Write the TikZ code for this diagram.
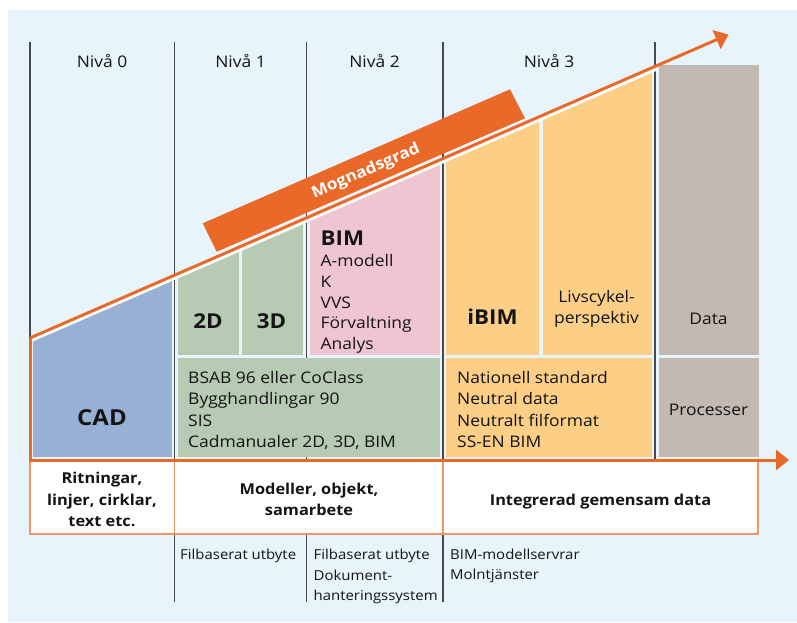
\documentclass[tikz,border=0pt]{standalone}
\usepackage{fontspec}
\setmainfont{Open Sans}
\newfontfamily\osf[FakeStretch=1.09]{Open Sans}
\usetikzlibrary{arrows.meta}
\definecolor{bgc}{HTML}{E8F4FC}
\definecolor{cadc}{HTML}{98B0D4}
\definecolor{grnc}{HTML}{B7CAB3}
\definecolor{pnkc}{HTML}{F0C5D2}
\definecolor{orfc}{HTML}{FCCE86}
\definecolor{gryc}{HTML}{C2B9B3}
\definecolor{orc}{HTML}{EA6828}
\definecolor{lorc}{HTML}{F0946A}
\definecolor{vlc}{HTML}{4A4A4A}
\definecolor{txtc}{HTML}{141414}
\tikzset{
  vline/.style={draw=vlc, line width=1.4pt},
  oline/.style={draw=orc, line width=3pt},
  wbox/.style={fill=white, draw=lorc, line width=1.8pt},
  otip/.style={-{Triangle[length=13pt,width=20pt]}},
  txt/.style={inner sep=0pt, text=txtc, font=\osf\fontsize{16}{19}\selectfont},
  stxt/.style={inner sep=0pt, text=txtc, font=\osf\fontsize{13.7}{16}\selectfont},
  btxt/.style={inner sep=0pt, text=txtc, font=\osf\bfseries\fontsize{15}{18}\selectfont},
  bigb/.style={inner sep=0pt, text=txtc, font=\osf\bfseries\fontsize{20.5}{24}\selectfont},
}
\begin{document}
\begin{tikzpicture}[x=1pt,y=-1pt]
\useasboundingbox (0,0) rectangle (797,623);
\fill[white] (0,0) rectangle (797,623);
\fill[bgc] (8,10) rectangle (797,622);
% column lines
\draw[vline] (30,42) -- (30,338);
\draw[vline] (174.5,42) -- (174.5,602);
\draw[vline] (306.5,42) -- (306.5,602);
\draw[vline] (443,42) -- (443,602);
\draw[vline] (655,42) -- (655,460);
% fills under the slanted line
\begin{scope}
  \clip (30,342) -- (728.5,38.5) -- (760,38.5) -- (760,470) -- (30,470) -- cycle;
  \fill[cadc] (33,0) rectangle (171.5,457);
  \fill[grnc] (178,0) rectangle (238.5,355);
  \fill[grnc] (242,0) rectangle (303,355);
  \fill[pnkc] (310,0) rectangle (440,355);
  \fill[orfc] (446,0) rectangle (539,355);
  \fill[orfc] (543,0) rectangle (652,355);
\end{scope}
\fill[grnc] (178,358) rectangle (440,457);
\fill[orfc] (446,358) rectangle (652,457);
\fill[gryc] (659,65) rectangle (758.5,355);
\fill[gryc] (659,358) rectangle (758.5,457);
% white boxes
\draw[wbox] (30,460) rectangle (174.5,534);
\draw[wbox] (174.5,460) rectangle (443,534);
\draw[wbox] (443,460) rectangle (758,534);
% arrows
\coordinate (s0) at (30,338);
\coordinate (s1) at (728.5,34.5);
\coordinate (h0) at (30,460);
\coordinate (h1) at (789,460);
\draw[white, line width=3.6pt] (32,339.8) -- (657,68.6);
\draw[oline, otip] (s0) -- (s1);
\draw[oline] (30,338) -- (30,461.5);
\draw[oline, otip] (h0) -- (h1);
% Mognadsgrad bar
\fill[orc] (202.7,223.3) -- (510,89.3) -- (525,118.3) -- (216.7,251.7) -- cycle;
\node[inner sep=0pt, text=white, font=\osf\bfseries\fontsize{15.8}{18}\selectfont, rotate=23.5] (mogn) at (366,171.5) {Mognadsgrad};
% level titles
\node[txt, anchor=base] (niva0) at (102,68) {Nivå 0};
\node[txt, anchor=base] (niva1) at (240.5,68) {Nivå 1};
\node[txt, anchor=base] (niva2) at (374.5,68) {Nivå 2};
\node[txt, anchor=base] (niva3) at (549,68) {Nivå 3};
% box texts
\node[bigb, anchor=base, font=\osf\bfseries\fontsize{22}{26}\selectfont] (cad) at (102,425) {CAD};
\node[bigb, anchor=base] (d2) at (208,328) {2D};
\node[bigb, anchor=base] (d3) at (271.5,328) {3D};
\node[bigb, anchor=base west] (bim) at (320.5,245) {BIM};
\foreach \t [count=\i] in {A-modell,K,VVS,Förvaltning,Analys}
  \node[txt, anchor=base west] (bim\i) at (320.5,266.7+20.7*\i-20.7) {\t};
\node[bigb, anchor=base] (ibim) at (492.5,324.3) {iBIM};
\node[txt, anchor=base] (livs1) at (596.5,302) {Livscykel-};
\node[txt, anchor=base] (livs2) at (596.5,323.3) {perspektiv};
\node[txt, anchor=base] (data) at (708.5,324.3) {Data};
\node[txt, anchor=base] (proc) at (708.5,415) {Processer};
\foreach \t [count=\i] in {BSAB 96 eller CoClass,Bygghandlingar 90,SIS,{Cadmanualer 2D, 3D, BIM}}
  \node[txt, anchor=base west] (bsab\i) at (188,383+21.5*\i-21.5) {\t};
\foreach \t [count=\i] in {Nationell standard,Neutral data,Neutralt filformat,SS-EN BIM}
  \node[txt, anchor=base west] (nat\i) at (457,383+21.5*\i-21.5) {\t};
% white box texts
\node[btxt, anchor=base] (rit1) at (102,483.5) {Ritningar,};
\node[btxt, anchor=base] (rit2) at (102,505) {linjer, cirklar,};
\node[btxt, anchor=base] (rit3) at (102,526) {text etc.};
\node[btxt, anchor=base] (mod1) at (309,494) {Modeller, objekt,};
\node[btxt, anchor=base] (mod2) at (309,515) {samarbete};
\node[btxt, anchor=base] (integ) at (600.5,505) {Integrerad gemensam data};
% bottom notes
\node[stxt, anchor=base west] (fil1) at (180,559.3) {Filbaserat utbyte};
\node[stxt, anchor=base west] (fil2) at (313.5,559.3) {Filbaserat utbyte};
\node[stxt, anchor=base west] (dok1) at (313.5,580) {Dokument-};
\node[stxt, anchor=base west] (dok2) at (313.5,600.5) {hanteringssystem};
\node[stxt, anchor=base west] (bims) at (450,559.3) {BIM-modellservrar};
\node[stxt, anchor=base west] (moln) at (450,579.8) {Molntjänster};
\end{tikzpicture}
\end{document}
